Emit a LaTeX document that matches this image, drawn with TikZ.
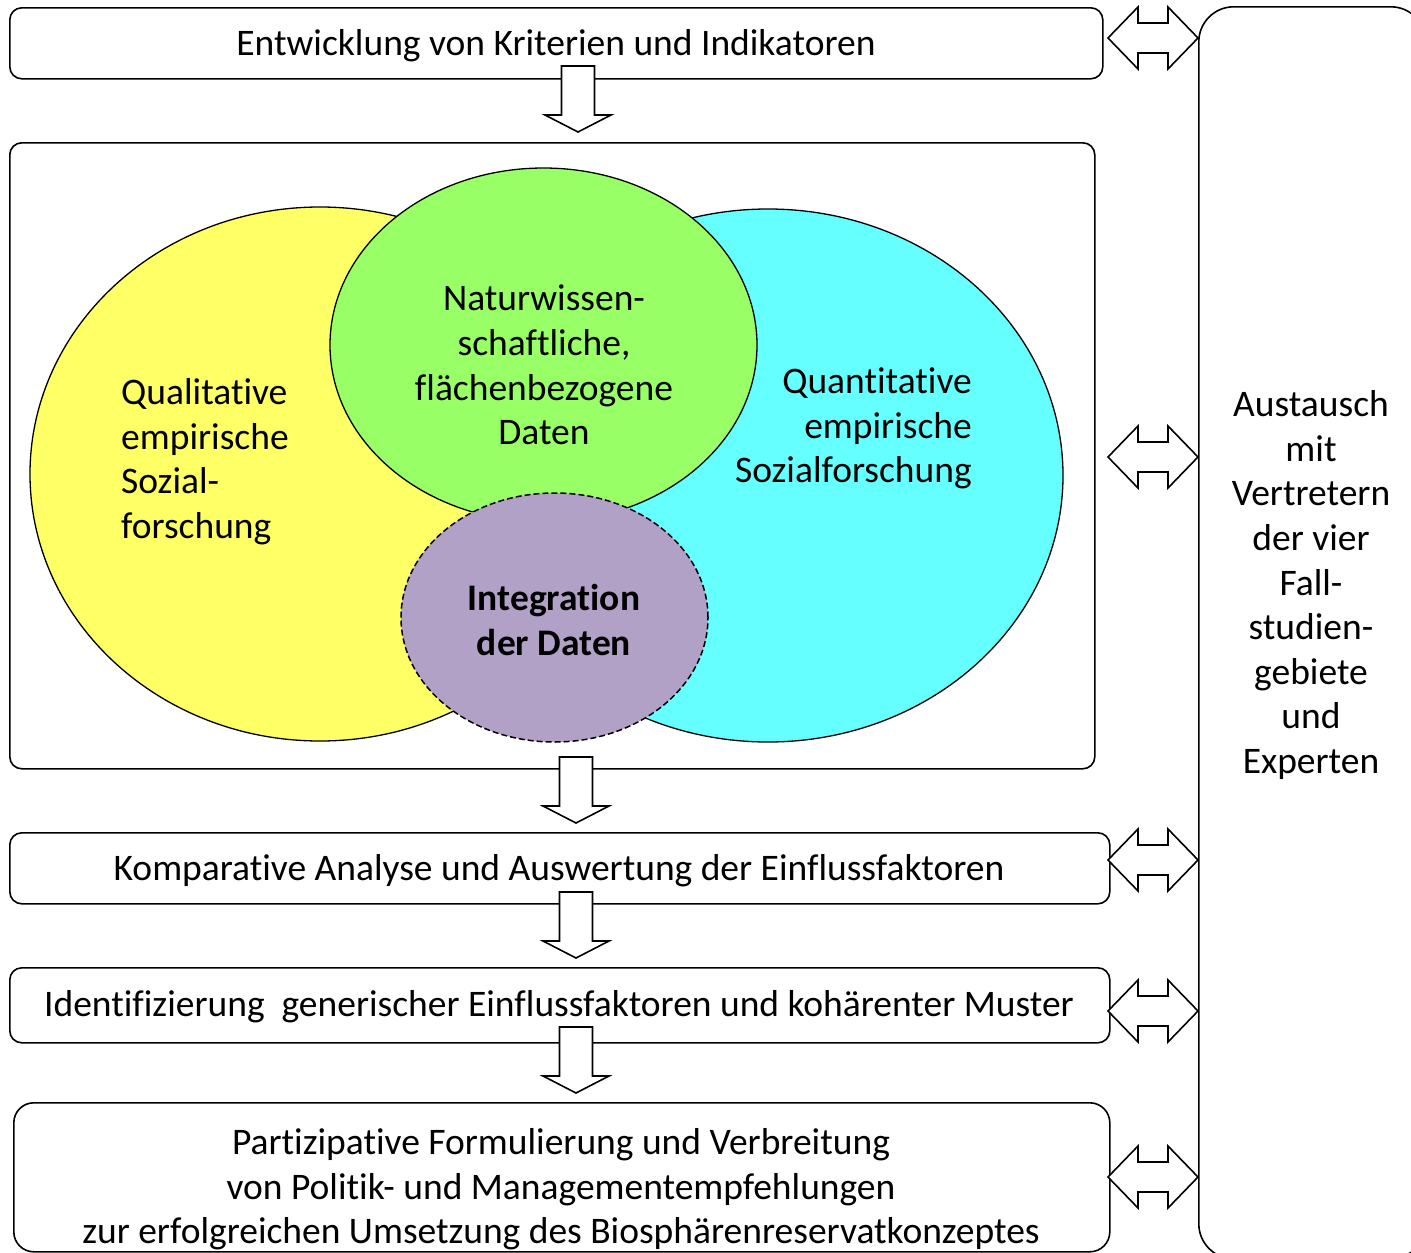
\documentclass[tikz,border=0pt]{standalone}
\usepackage{fontspec}
\setmainfont{Carlito}[Ligatures={NoCommon}]
\usetikzlibrary{shapes.geometric}
\definecolor{qualy}{HTML}{FFFF66}
\definecolor{natg}{HTML}{99FF66}
\definecolor{quanc}{HTML}{66FFFF}
\definecolor{integ}{HTML}{B2A1C7}
\begin{document}
\begin{tikzpicture}[x=1pt,y=-1pt,
  box/.style={draw,line width=1.6pt,rounded corners=12pt,inner sep=0pt,anchor=north west},
  lbl/.style={font=\fontsize{37.5}{44.6}\selectfont,inner sep=0pt,yshift=-2.5pt},
  ell/.style={draw,line width=1.3pt,ellipse,inner sep=0pt},
  blockarrow/.style={draw,line width=1.6pt,fill=white,line join=miter},
  dblarr/.pic={\draw[blockarrow] (-45,0) -- (-15,-31) -- (-15,-15) -- (15,-15) -- (15,-31) -- (45,0) -- (15,31) -- (15,15) -- (-15,15) -- (-15,31) -- cycle;},
  downarr/.pic={\draw[blockarrow] (-16.5,0) -- (16.5,0) -- (16.5,49) -- (33,49) -- (0,66) -- (-33,49) -- (-16.5,49) -- cycle;}]
\useasboundingbox (0,0) rectangle (1411,1253);

% boxes
\node[box,minimum width=1093pt,minimum height=71pt] (b1) at (9,7) {};
\node[lbl] (t1) at (556,43) {Entwicklung von Kriterien und Indikatoren};
\node[box,minimum width=1085pt,minimum height=626pt] (b2) at (9,142) {};
\node[box,minimum width=1100pt,minimum height=71pt] (b3) at (9,832) {};
\node[lbl] (t3) at (559,868) {Komparative Analyse und Auswertung der Einflussfaktoren};
\node[box,minimum width=1100pt,minimum height=75pt] (b4) at (9,967) {};
\node[lbl] (t4) at (559,1004) {Identifizierung\ \ generischer Einflussfaktoren und kohärenter Muster};
\node[box,rounded corners=20pt,minimum width=1096pt,minimum height=149pt] (b5) at (13,1102) {};
\node[lbl,align=center] (t5) at (561,1187) {Partizipative Formulierung und Verbreitung\\von Politik- und Managementempfehlungen\\zur erfolgreichen Umsetzung des Biosphärenreservatkonzeptes};
\node[box,rounded corners=35pt,minimum width=227pt,minimum height=1252pt] (b6) at (1198,6) {};
\node[lbl,align=center] (t6) at (1311,582.5) {Austausch\\mit\\Vertretern\\der vier\\Fall-\\studien-\\gebiete\\und\\Experten};

% ellipses
\node[ell,fill=quanc,minimum width=590pt,minimum height=533pt] (quan) at (768,475.5) {};
\node[ell,fill=qualy,minimum width=580pt,minimum height=534pt] (qual) at (320,474) {};
\node[ell,fill=natg,minimum width=427pt,minimum height=354pt] (nat) at (543.5,345) {};
\node[ell,fill=integ,line width=1.5pt,dash pattern=on 6pt off 3pt,minimum width=307pt,minimum height=249pt] (int) at (554.5,617.5) {};

\node[lbl,align=left,anchor=west] (tq) at (121,459) {Qualitative\\empirische\\Sozial-\\forschung};
\node[lbl,align=center] (tn) at (544,362.5) {Naturwissen-\\schaftliche,\\flächenbezogene\\Daten};
\node[lbl,align=right,anchor=east] (tqu) at (972,426) {Quantitative\\empirische\\Sozialforschung};
\node[lbl,align=center,font=\fontsize{37.5}{44.6}\selectfont\bfseries] (ti) at (554,617.5) {Integration\\der Daten};

% down arrows
\pic at (578,66) {downarr};
\pic at (576,757) {downarr};
\pic at (576,892) {downarr};
\pic at (576,1027) {downarr};

% double arrows
\foreach \yy in {38,457,860,1011,1177} \pic at (1153,\yy) {dblarr};
\end{tikzpicture}
\end{document}
